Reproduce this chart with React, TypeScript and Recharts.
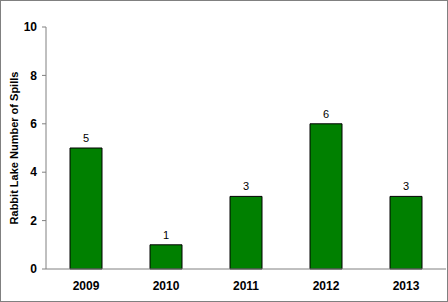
import React from 'react';
import { BarChart, Bar, XAxis, YAxis, LabelList, Label } from 'recharts';

const years = ['2009', '2010', '2011', '2012', '2013'];
const spills = [5, 1, 3, 6, 3];
const yTicks = [0, 2, 4, 6, 8, 10];
// category boundaries, used only for the between-category tick marks
const boundaries = [0, 1, 2, 3, 4, 5];

const data = years.map((year, i) => ({ year, spills: spills[i] }));

const font = 'Arial, "Liberation Sans", sans-serif';
const axisGray = '#808080';

const App: React.FC = () => {
  return (
    <div
      style={{
        position: 'absolute',
        left: 0,
        top: 0,
        width: 448,
        height: 302,
        boxSizing: 'border-box',
        border: '1px solid #808080',
        background: '#fff',
        fontFamily: font,
      }}
    >
      <BarChart
        width={446}
        height={300}
        data={data}
        margin={{ top: 26, right: 1, bottom: 2, left: 0 }}
      >
        <XAxis
          xAxisId="a"
          type="number"
          domain={[0, 5]}
          ticks={boundaries}
          tick={false}
          height={1}
          tickSize={4}
          axisLine={{ stroke: axisGray }}
          tickLine={{ stroke: axisGray }}
        />
        <XAxis
          xAxisId="b"
          dataKey="year"
          height={29}
          tickLine={false}
          axisLine={false}
          tick={{ fill: '#000', fontSize: 12, fontWeight: 'bold', fontFamily: font }}
          tickMargin={5}
        />
        <YAxis
          domain={[0, 10]}
          ticks={yTicks}
          width={45}
          tickSize={4}
          tickMargin={5}
          axisLine={{ stroke: axisGray }}
          tickLine={{ stroke: axisGray }}
          tick={{ fill: '#000', fontSize: 12, fontWeight: 'bold', fontFamily: font }}
        >
          <Label
            value="Rabbit Lake Number of Spills"
            angle={-90}
            position="insideLeft"
            offset={13}
            style={{ textAnchor: 'middle', fill: '#000', fontSize: 11, fontWeight: 'bold', fontFamily: font }}
          />
        </YAxis>
        <Bar
          xAxisId="b"
          dataKey="spills"
          fill="#008000"
          stroke="#000"
          strokeWidth={1}
          barSize={32}
          isAnimationActive={false}
        >
          <LabelList
            dataKey="spills"
            position="top"
            offset={6}
            style={{ fill: '#000', fontSize: 11, fontFamily: font }}
          />
        </Bar>
      </BarChart>
    </div>
  );
};

export default App;
